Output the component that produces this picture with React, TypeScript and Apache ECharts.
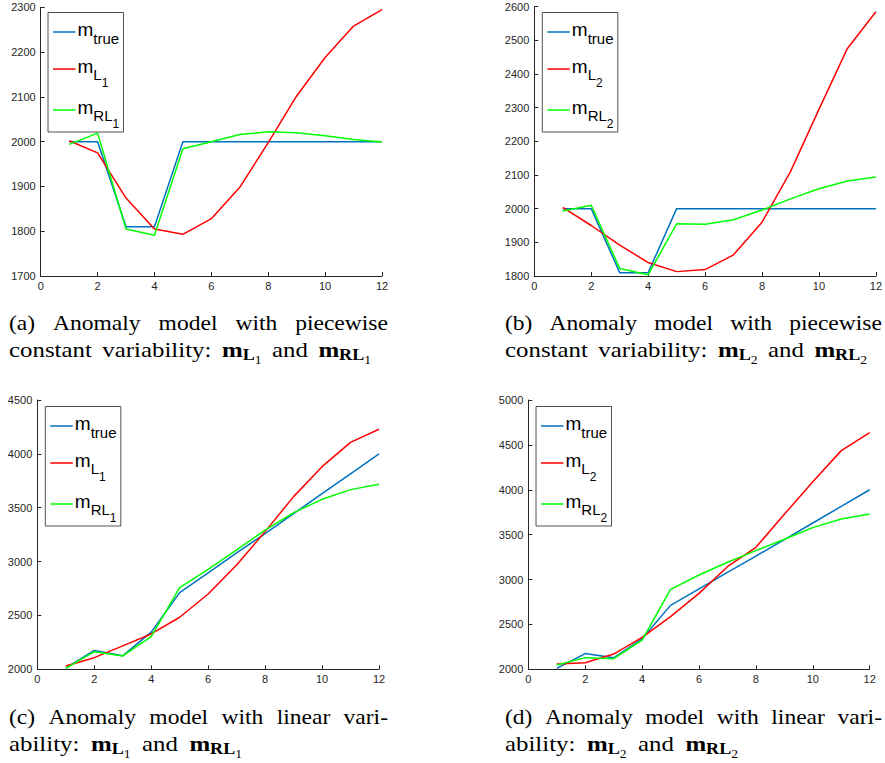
import React, { useEffect, useRef } from 'react';
import * as echarts from 'echarts';

// ---------- data ----------
const xTicks = [0, 2, 4, 6, 8, 10, 12];
const steps = [1, 2, 3, 4, 5, 6, 7, 8, 9, 10, 11, 12];

const aTrue = [2000, 2000, 1810, 1810, 2000, 2000, 2000, 2000, 2000, 2000, 2000, 2000];
const aL1 = [2002, 1975, 1874, 1805, 1793, 1828, 1898, 1998, 2102, 2188, 2258, 2295];
const aRL1 = [1994, 2019, 1805, 1791, 1984, 2000, 2016, 2022, 2020, 2013, 2005, 1999];
const aYTicks = [1700, 1800, 1900, 2000, 2100, 2200, 2300];

const bTrue = [2000, 2000, 1810, 1810, 2000, 2000, 2000, 2000, 2000, 2000, 2000, 2000];
const bL2 = [2004, 1950, 1892, 1840, 1813, 1819, 1863, 1960, 2110, 2295, 2476, 2585];
const bRL2 = [1993, 2010, 1822, 1804, 1955, 1954, 1967, 1996, 2029, 2059, 2082, 2094];
const bYTicks = [1800, 1900, 2000, 2100, 2200, 2300, 2400, 2500, 2600];

const cTrue = [2010, 2175, 2125, 2345, 2712, 2895, 3080, 3260, 3445, 3630, 3815, 4000];
const cL1 = [2031, 2108, 2217, 2328, 2483, 2699, 2968, 3278, 3603, 3881, 4107, 4228];
const cRL1 = [2009, 2164, 2124, 2303, 2758, 2928, 3108, 3293, 3454, 3578, 3668, 3717];
const cYTicks = [2000, 2500, 3000, 3500, 4000, 4500];

const dTrue = [2010, 2175, 2128, 2340, 2712, 2895, 3080, 3260, 3445, 3630, 3815, 4000];
const dL2 = [2060, 2074, 2170, 2355, 2586, 2846, 3143, 3359, 3726, 4090, 4436, 4636];
const dRL2 = [2048, 2130, 2118, 2326, 2891, 3050, 3192, 3322, 3448, 3578, 3674, 3730];
const dYTicks = [2000, 2500, 3000, 3500, 4000, 4500, 5000];

const seriesColors = ['#0072BD', '#FF0000', '#00FF00'];

// ---------- helpers ----------
const SERIF = '"Liberation Serif", "Times New Roman", serif';
const SANS = '"Liberation Sans", Arial, Helvetica, sans-serif';

let ctx: CanvasRenderingContext2D | null = null;
function measure(t: string, size: number, bold: boolean, family: string) {
  if (!ctx) ctx = document.createElement('canvas').getContext('2d');
  ctx!.font = `${bold ? 'bold ' : ''}${size}px ${family}`;
  return ctx!.measureText(t).width;
}

type Part = { t: string; size: number; bold?: boolean; dy?: number };

function partsEls(parts: Part[], x0: number, baseline: number, family: string, z: number, central: number, sx = 1) {
  const els: any[] = [];
  let x = x0;
  for (const p of parts) {
    const bl = baseline + (p.dy || 0);
    els.push({
      type: 'text',
      x,
      y: bl - central * p.size,
      scaleX: sx,
      z,
      style: {
        text: p.t,
        fill: '#000',
        fontSize: p.size,
        fontFamily: family,
        fontWeight: p.bold ? 'bold' : 'normal',
        align: 'left',
        verticalAlign: 'middle',
        textAlign: 'left',
        textVerticalAlign: 'middle',
      },
    });
    x += measure(p.t, p.size, !!p.bold, family) * sx;
  }
  return { els, width: x - x0 };
}

function wordWidth(parts: Part[], family: string) {
  return parts.reduce((s, p) => s + measure(p.t, p.size, !!p.bold, family), 0);
}

function justified(words: Part[][], x0: number, x1: number, sx: number, baseline: number) {
  const tot = words.reduce((s, wd) => s + wordWidth(wd, SERIF), 0) * sx;
  const gap = (x1 - x0 - tot) / (words.length - 1);
  const els: any[] = [];
  let x = x0;
  words.forEach((w) => {
    els.push(...partsEls(w, x, baseline, SERIF, 10, 0.34, sx).els);
    x += wordWidth(w, SERIF) * sx + gap;
  });
  return els;
}

const CS = 22;
const w = (t: string): Part[] => [{ t, size: CS }];
const M = (sub: string, idx: string): Part[] => [
  { t: 'm', size: CS, bold: true },
  { t: sub, size: 16, bold: true, dy: 3.5 },
  { t: idx, size: 12, dy: 7 },
];

function caption(letter: string, kind: 'pc' | 'lin', n: string, x0: number, x1: number, x1b: number, base: number) {
  const l1 =
    kind === 'pc'
      ? [`(${letter})`, 'Anomaly', 'model', 'with', 'piecewise'].map(w)
      : [`(${letter})`, 'Anomaly', 'model', 'with', 'linear', 'vari-'].map(w);
  const l2 =
    kind === 'pc'
      ? [w('constant'), w('variability:'), M('L', n), w('and'), M('RL', n)]
      : [w('ability:'), M('L', n), w('and'), M('RL', n)];
  return [...justified(l1, x0, x1, 1.07, base), ...justified(l2, x0, x1b, 1.13, base + 27)];
}

function legend(bl: number, bt: number, n: string) {
  const els: any[] = [];
  els.push({
    type: 'rect',
    z: 50,
    shape: { x: bl, y: bt, width: 75.5, height: 119.5 },
    style: { fill: '#ffffff', stroke: '#262626', lineWidth: 0.8 },
  });
  const rows = [bt + 19.5, bt + 56.5, bt + 97.5];
  const labels: Part[][] = [
    [{ t: 'm', size: 19 }, { t: 'true', size: 15, dy: 7.5 }],
    [{ t: 'm', size: 19 }, { t: 'L', size: 15, dy: 6.5 }, { t: n, size: 12, dy: 13.5 }],
    [{ t: 'm', size: 19 }, { t: 'RL', size: 15, dy: 6.5 }, { t: n, size: 12, dy: 13.5 }],
  ];
  rows.forEach((y, i) => {
    els.push({
      type: 'line',
      z: 51,
      shape: { x1: bl + 5, y1: y, x2: bl + 27.5, y2: y },
      style: { stroke: seriesColors[i], lineWidth: 1.5 },
    });
    els.push(...partsEls(labels[i], bl + 29.5, y + 4.5, SANS, 52, 0.345).els);
  });
  return els;
}

const grids = [
  { left: 40.7, top: 7.3, width: 341.3, height: 268.7 },
  { left: 534.3, top: 6.7, width: 342, height: 269.3 },
  { left: 37.3, top: 400, width: 341.7, height: 269.3 },
  { left: 528.3, top: 400, width: 341.4, height: 269.3 },
];

const panels = [
  { yTicks: aYTicks, data: [aTrue, aL1, aRL1], names: ['m_true', 'm_L1', 'm_RL1'] },
  { yTicks: bYTicks, data: [bTrue, bL2, bRL2], names: ['m_true', 'm_L2', 'm_RL2'] },
  { yTicks: cYTicks, data: [cTrue, cL1, cRL1], names: ['m_true', 'm_L1', 'm_RL1'] },
  { yTicks: dYTicks, data: [dTrue, dL2, dRL2], names: ['m_true', 'm_L2', 'm_RL2'] },
];

const axisCommon = {
  axisLine: { show: true, lineStyle: { color: '#262626', width: 1 } },
  axisTick: { show: true, inside: true, length: 4, lineStyle: { color: '#262626', width: 1 } },
  splitLine: { show: false },
};

export default function App() {
  const ref = useRef<HTMLDivElement>(null);
  useEffect(() => {
    if (!ref.current) return;
    const chart = echarts.init(ref.current, undefined, { renderer: 'svg' });
    const xAxis = panels.map((p, i) => ({
      gridIndex: i,
      type: 'value',
      min: xTicks[0],
      max: xTicks[xTicks.length - 1],
      interval: xTicks[1] - xTicks[0],
      ...axisCommon,
      axisLabel: {
        color: '#262626',
        fontSize: 11,
        fontFamily: SANS,
        margin: 4,
        showMinLabel: true,
        showMaxLabel: true,
        formatter: (v: number) => String(v),
      },
    }));
    const yAxis = panels.map((p, i) => ({
      gridIndex: i,
      type: 'value',
      min: p.yTicks[0],
      max: p.yTicks[p.yTicks.length - 1],
      interval: p.yTicks[1] - p.yTicks[0],
      ...axisCommon,
      axisLabel: {
        color: '#262626',
        fontSize: 11,
        fontFamily: SANS,
        margin: 5,
        showMinLabel: true,
        showMaxLabel: true,
        formatter: (v: number) => String(v),
      },
    }));
    const series: any[] = [];
    panels.forEach((p, i) => {
      p.data.forEach((arr, k) => {
        series.push({
          type: 'line',
          name: p.names[k],
          xAxisIndex: i,
          yAxisIndex: i,
          data: steps.map((x, j) => [x, arr[j]]),
          symbol: 'none',
          showSymbol: false,
          lineStyle: { color: seriesColors[k], width: 1.5 },
          itemStyle: { color: seriesColors[k] },
          z: 2 + k,
        });
      });
    });
    const graphic = [
      ...legend(48, 12.5, '1'),
      ...legend(542.3, 12.5, '2'),
      ...legend(45.3, 406.5, '1'),
      ...legend(536, 406.5, '2'),
      ...caption('a', 'pc', '1', 9, 388, 371, 330),
      ...caption('b', 'pc', '2', 505, 882, 867, 330),
      ...caption('c', 'lin', '1', 9, 388, 242, 724),
      ...caption('d', 'lin', '2', 505, 882, 738, 724),
    ];
    chart.setOption({
      animation: false,
      backgroundColor: '#ffffff',
      grid: grids.map((g) => ({ ...g, containLabel: false })),
      xAxis,
      yAxis,
      series,
      graphic,
    });
    return () => chart.dispose();
  }, []);
  return (
    <div
      ref={ref}
      style={{ position: 'absolute', left: 0, top: 0, width: 885, height: 763, background: '#fff' }}
    />
  );
}
